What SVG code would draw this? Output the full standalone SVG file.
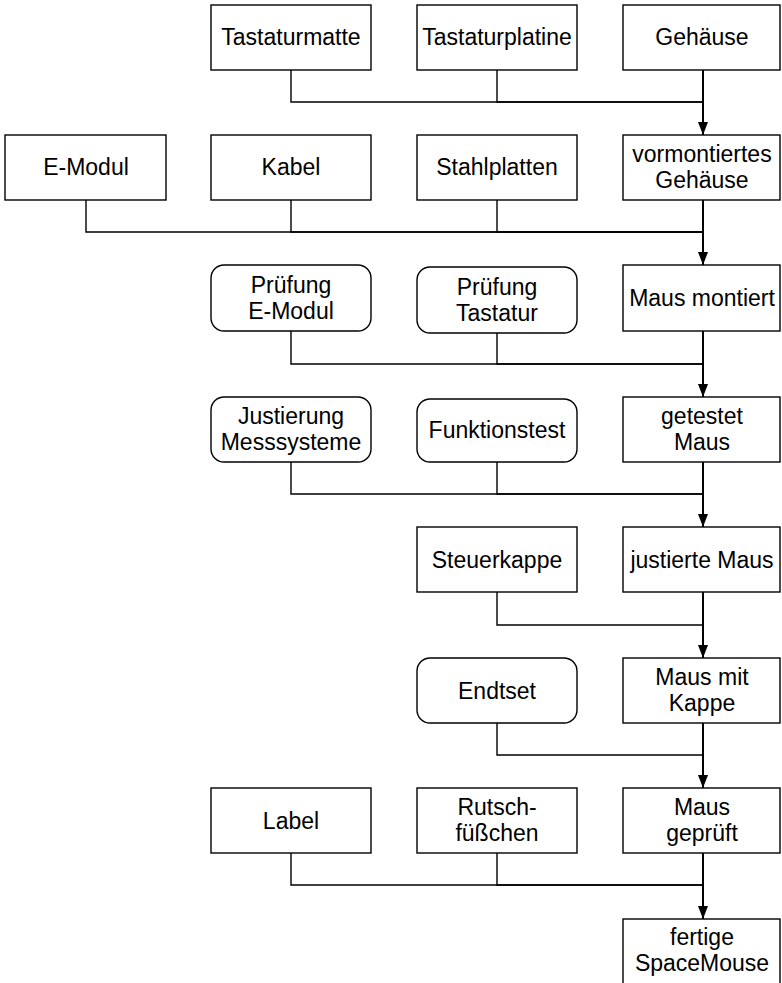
<svg xmlns="http://www.w3.org/2000/svg" width="782" height="983" viewBox="0 0 782 983">
  <style>
    .box { fill: #ffffff; stroke: #000000; stroke-width: 1.4; }
    .lbl { font-family: "Liberation Sans", Arial, sans-serif; font-size: 23px; fill: #000000; text-anchor: middle; }
    .feed { fill: none; stroke: #000000; stroke-width: 1.4; }
    .main { fill: none; stroke: #000000; stroke-width: 2; }
  </style>
  <defs>
    <!-- solid arrowhead, drawn along +x so orient="auto" turns it down the line -->
    <marker id="arrow" viewBox="0 0 13 10" refX="13" refY="5" markerWidth="13" markerHeight="10" markerUnits="userSpaceOnUse" orient="auto">
      <path d="M0,0 L13,5 L0,10 Z" fill="#000000"/>
    </marker>
  </defs>

  <rect width="782" height="983" fill="#ffffff"/>

  <!-- connectors -->
  <g id="connectors">
    <!-- stage 1: vormontiertes Gehäuse -->
    <polyline class="feed" points="291,70 291,102 703,102"/>
    <polyline class="feed" points="497,70 497,102 703,102"/>
    <!-- stage 2: Maus montiert -->
    <polyline class="feed" points="86,200 86,232 703,232"/>
    <polyline class="feed" points="291,200 291,232 703,232"/>
    <polyline class="feed" points="497,200 497,232 703,232"/>
    <!-- stage 3: getestet Maus -->
    <polyline class="feed" points="291,331 291,364 703,364"/>
    <polyline class="feed" points="497,333 497,364 703,364"/>
    <!-- stage 4: justierte Maus -->
    <polyline class="feed" points="291,462 291,494 703,494"/>
    <polyline class="feed" points="497,462 497,494 703,494"/>
    <!-- stage 5: Maus mit Kappe -->
    <polyline class="feed" points="497,592 497,625 703,625"/>
    <!-- stage 6: Maus geprüft -->
    <polyline class="feed" points="497,723 497,755 703,755"/>
    <!-- stage 7: fertige SpaceMouse -->
    <polyline class="feed" points="291,853 291,885 703,885"/>
    <polyline class="feed" points="497,853 497,885 703,885"/>

    <!-- main assembly line -->
    <line class="main" x1="703" y1="70" x2="703" y2="135" marker-end="url(#arrow)"/>
    <line class="main" x1="703" y1="200" x2="703" y2="265" marker-end="url(#arrow)"/>
    <line class="main" x1="703" y1="331" x2="703" y2="397" marker-end="url(#arrow)"/>
    <line class="main" x1="703" y1="462" x2="703" y2="527" marker-end="url(#arrow)"/>
    <line class="main" x1="703" y1="592" x2="703" y2="658" marker-end="url(#arrow)"/>
    <line class="main" x1="703" y1="723" x2="703" y2="788" marker-end="url(#arrow)"/>
    <line class="main" x1="703" y1="853" x2="703" y2="919" marker-end="url(#arrow)"/>
  </g>

  <!-- row 1 -->
  <g id="tastaturmatte">
    <rect class="box" x="211" y="5" width="160" height="65"/>
    <text class="lbl" x="291" y="45">Tastaturmatte</text>
  </g>
  <g id="tastaturplatine">
    <rect class="box" x="417" y="5" width="160" height="65"/>
    <text class="lbl" x="497" y="45">Tastaturplatine</text>
  </g>
  <g id="gehaeuse">
    <rect class="box" x="623" y="5" width="157" height="65"/>
    <text class="lbl" x="702" y="45">Gehäuse</text>
  </g>

  <!-- row 2 -->
  <g id="e-modul">
    <rect class="box" x="5" y="135" width="161" height="65"/>
    <text class="lbl" x="86" y="175">E-Modul</text>
  </g>
  <g id="kabel">
    <rect class="box" x="211" y="135" width="160" height="65"/>
    <text class="lbl" x="291" y="175">Kabel</text>
  </g>
  <g id="stahlplatten">
    <rect class="box" x="417" y="135" width="160" height="65"/>
    <text class="lbl" x="497" y="175">Stahlplatten</text>
  </g>
  <g id="vormontiertes-gehaeuse">
    <rect class="box" x="623" y="135" width="157" height="65"/>
    <text class="lbl" x="702" y="162">vormontiertes</text>
    <text class="lbl" x="702" y="188">Gehäuse</text>
  </g>

  <!-- row 3 -->
  <g id="pruefung-e-modul">
    <rect class="box" x="211" y="265" width="160" height="66" rx="13" ry="13"/>
    <text class="lbl" x="291" y="293">Prüfung</text>
    <text class="lbl" x="291" y="319">E-Modul</text>
  </g>
  <g id="pruefung-tastatur">
    <rect class="box" x="417" y="267" width="160" height="66" rx="13" ry="13"/>
    <text class="lbl" x="497" y="295">Prüfung</text>
    <text class="lbl" x="497" y="321">Tastatur</text>
  </g>
  <g id="maus-montiert">
    <rect class="box" x="623" y="265" width="157" height="66"/>
    <text class="lbl" x="702" y="306">Maus montiert</text>
  </g>

  <!-- row 4 -->
  <g id="justierung-messsysteme">
    <rect class="box" x="211" y="397" width="160" height="65" rx="13" ry="13"/>
    <text class="lbl" x="291" y="424">Justierung</text>
    <text class="lbl" x="291" y="450">Messsysteme</text>
  </g>
  <g id="funktionstest">
    <rect class="box" x="417" y="399" width="160" height="63" rx="13" ry="13"/>
    <text class="lbl" x="497" y="438">Funktionstest</text>
  </g>
  <g id="getestet-maus">
    <rect class="box" x="623" y="397" width="157" height="65"/>
    <text class="lbl" x="702" y="424">getestet</text>
    <text class="lbl" x="702" y="450">Maus</text>
  </g>

  <!-- row 5 -->
  <g id="steuerkappe">
    <rect class="box" x="417" y="527" width="160" height="65"/>
    <text class="lbl" x="497" y="568">Steuerkappe</text>
  </g>
  <g id="justierte-maus">
    <rect class="box" x="623" y="527" width="157" height="65"/>
    <text class="lbl" x="702" y="568">justierte Maus</text>
  </g>

  <!-- row 6 -->
  <g id="endtset">
    <rect class="box" x="417" y="658" width="160" height="65" rx="13" ry="13"/>
    <text class="lbl" x="497" y="699">Endtset</text>
  </g>
  <g id="maus-mit-kappe">
    <rect class="box" x="623" y="658" width="157" height="65"/>
    <text class="lbl" x="702" y="685">Maus mit</text>
    <text class="lbl" x="702" y="711">Kappe</text>
  </g>

  <!-- row 7 -->
  <g id="label">
    <rect class="box" x="211" y="788" width="160" height="65"/>
    <text class="lbl" x="291" y="829">Label</text>
  </g>
  <g id="rutschfuesschen">
    <rect class="box" x="417" y="788" width="160" height="65"/>
    <text class="lbl" x="497" y="815">Rutsch-</text>
    <text class="lbl" x="497" y="841">füßchen</text>
  </g>
  <g id="maus-geprueft">
    <rect class="box" x="623" y="788" width="157" height="65"/>
    <text class="lbl" x="702" y="815">Maus</text>
    <text class="lbl" x="702" y="841">geprüft</text>
  </g>

  <!-- row 8 -->
  <g id="fertige-spacemouse">
    <rect class="box" x="623" y="919" width="157" height="80"/>
    <text class="lbl" x="702" y="945">fertige</text>
    <text class="lbl" x="702" y="971">SpaceMouse</text>
  </g>
</svg>
